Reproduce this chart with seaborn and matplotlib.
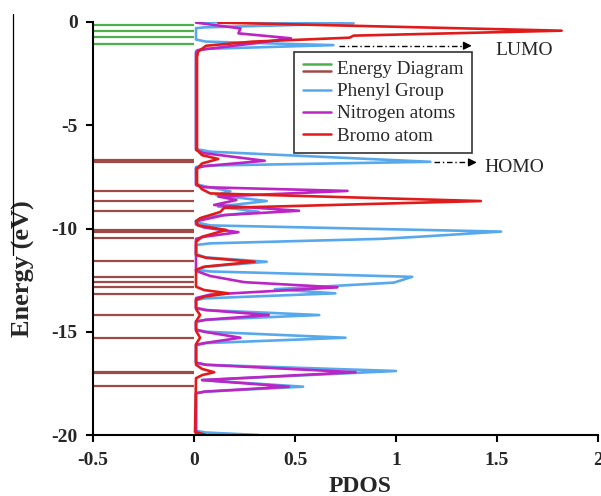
import numpy as np
import pandas as pd
import matplotlib
matplotlib.use("Agg")
import matplotlib.pyplot as plt
import seaborn as sns
from matplotlib.lines import Line2D
from matplotlib.legend_handler import HandlerBase

# ---------------- data ----------------
green_levels = [-0.15, -0.42, -0.74, -1.08]
brown_levels = [-6.68, -6.79, -8.18, -8.67, -9.14, -10.07, -10.16, -10.47,
                -11.58, -12.33, -12.61, -12.85, -13.17, -14.19, -15.29,
                -16.93, -17.01, -17.61]

phenyl_e = [0.0, -0.07, -0.26, -0.30, -0.85, -0.95, -1.12, -1.30, -1.40,
            -6.15, -6.28, -6.77, -6.95, -7.02, -7.85, -7.95, -8.20, -8.38,
            -8.67, -8.94, -9.19, -9.45, -9.62, -9.70, -9.85, -10.15, -10.39,
            -10.50, -10.72, -10.80, -11.25, -11.40, -11.61, -11.85, -12.00,
            -12.08, -12.34, -12.62, -12.94, -13.14, -13.38, -13.46, -13.85,
            -13.95, -14.19, -14.42, -14.51, -14.90, -15.00, -15.29, -15.55,
            -15.64, -16.50, -16.60, -16.90, -17.34, -17.66, -17.90, -17.98,
            -19.80, -19.88, -20.0]
phenyl_v = [0.01, 0.79, 0.05, 0.01, 0.01, 0.06, 0.69, 0.06, 0.01,
            0.01, 0.08, 1.17, 0.08, 0.01, 0.01, 0.05, 0.18, 0.11,
            0.36, 0.12, 0.32, 0.05, 0.01, 0.01, 0.08, 1.52, 1.13,
            0.93, 0.08, 0.01, 0.01, 0.06, 0.36, 0.06, 0.01,
            0.08, 1.08, 0.99, 0.40, 0.70, 0.06, 0.01, 0.01,
            0.06, 0.62, 0.06, 0.01, 0.01, 0.06, 0.75, 0.06,
            0.01, 0.01, 0.06, 1.00, 0.04, 0.54, 0.06, 0.01,
            0.01, 0.06, 0.32]

nitrogen_e = [-0.03, -0.31, -0.55, -0.79, -1.03, -1.36, -1.50, -6.20, -6.35,
              -6.72, -6.98, -7.09, -7.90, -8.00, -8.18, -8.45, -8.62, -8.86,
              -9.14, -9.35, -9.65, -9.80, -9.95, -10.18, -10.40, -10.50,
              -12.05, -12.30, -12.60, -12.85, -13.20, -13.37, -13.85, -13.95,
              -14.19, -14.42, -14.51, -14.90, -15.00, -15.29, -15.55, -15.64,
              -16.50, -16.60, -16.96, -17.34, -17.66, -17.90, -17.98, -20.0]
nitrogen_v = [0.01, 0.23, 0.22, 0.48, 0.30, 0.02, 0.01, 0.01, 0.05,
              0.35, 0.05, 0.01, 0.01, 0.05, 0.76, 0.12, 0.21, 0.10,
              0.52, 0.15, 0.01, 0.01, 0.05, 0.22, 0.05, 0.01,
              0.01, 0.08, 0.25, 0.71, 0.08, 0.01, 0.01, 0.06,
              0.37, 0.06, 0.01, 0.01, 0.05, 0.23, 0.05, 0.01,
              0.01, 0.06, 0.80, 0.04, 0.47, 0.05, 0.01, 0.01]

bromo_e = [-0.03, -0.42, -0.66, -0.76, -0.95, -1.15, -1.44, -1.70, -6.20,
           -6.45, -6.63, -6.85, -7.10, -7.85, -8.10, -8.30, -8.67, -9.00,
           -9.20, -9.50, -9.65, -9.85, -10.07, -10.40, -10.64, -11.28,
           -11.42, -11.61, -11.85, -12.00, -12.82, -12.98, -13.14, -13.30,
           -13.46, -13.90, -14.19, -14.50, -14.95, -15.29, -15.60, -16.60,
           -16.80, -16.96, -17.10, -17.25, -19.85, -20.0]
bromo_v = [0.12, 1.82, 0.79, 0.77, 0.29, 0.06, 0.02, 0.015, 0.015,
           0.04, 0.12, 0.04, 0.015, 0.015, 0.04, 0.08, 1.42, 0.15,
           0.13, 0.03, 0.01, 0.02, 0.16, 0.04, 0.01, 0.01,
           0.06, 0.30, 0.05, 0.01, 0.01, 0.05, 0.17, 0.05,
           0.01, 0.01, 0.03, 0.01, 0.01, 0.03, 0.01, 0.01,
           0.04, 0.10, 0.04, 0.01, 0.005, 0.06]

x_ticks = [-0.5, 0, 0.5, 1, 1.5, 2]
x_tick_labels = ["-0.5", "0", "0.5", "1", "1.5", "2"]
y_ticks = [0, -5, -10, -15, -20]
y_tick_labels = ["0", "-5", "-10", "-15", "-20"]

# ---------------- style ----------------
sns.set_style("ticks")
plt.rcParams['font.family'] = ['Liberation Serif', 'DejaVu Serif']
plt.rcParams['axes.unicode_minus'] = False

C_GREEN = "#4DB04A"
C_BROWN = "#9E4B48"
C_BLUE = "#58A8EC"
C_PURPLE = "#BC24C4"
C_RED = "#E01B1B"

W, H = 601, 496
fig = plt.figure(figsize=(W / 100, H / 100), dpi=100)
ax = fig.add_axes([93 / W, 1 - 435 / H, (598 - 93) / W, (435 - 22) / H])

# energy levels
ax.hlines(green_levels, -0.5, 0, colors=C_GREEN, lw=1.6)
ax.hlines(brown_levels, -0.5, 0, colors=C_BROWN, lw=1.6)

# PDOS curves
for e, v, c in [(phenyl_e, phenyl_v, C_BLUE),
                (nitrogen_e, nitrogen_v, C_PURPLE),
                (bromo_e, bromo_v, C_RED)]:
    df = pd.DataFrame({"energy": e, "pdos": v})
    sns.lineplot(data=df, x="pdos", y="energy", sort=False, estimator=None,
                 color=c, lw=1.9, ax=ax)

ax.set_xlim(-0.5, 2)
ax.set_ylim(-20, 0)
ax.set_xticks(x_ticks)
ax.set_xticklabels(x_tick_labels)
ax.set_yticks(y_ticks)
ax.set_yticklabels(y_tick_labels)
for lab in ax.get_xticklabels() + ax.get_yticklabels():
    lab.set_fontweight("bold")
    lab.set_fontsize(14)
ax.tick_params(axis="both", direction="out", length=5, width=1.5, color="black")
ax.tick_params(axis="x", pad=7)
ax.tick_params(axis="y", pad=6)
sns.despine(ax=ax)
for s in ["left", "bottom"]:
    ax.spines[s].set_color("black")
    ax.spines[s].set_linewidth(1.5)

ax.set_xlabel("PDOS", fontsize=17, fontweight="bold", va="center")
ax.set_ylabel("Energy (eV)", fontsize=19, fontweight="bold", va="center")
ax.xaxis.set_label_coords((360 - 93) / (598 - 93), -(486 - 435) / (435 - 22), transform=ax.transAxes)
ax.yaxis.set_label_coords(-(93 - 23) / (598 - 93), (435 - 269) / (435 - 22), transform=ax.transAxes)

# LUMO / HOMO arrows
for x0, x1, y, txt, tx in [(0.72, 1.375, -1.15, "LUMO", 1.49),
                           (1.19, 1.40, -6.80, "HOMO", 1.44)]:
    ax.plot([x0, x1 - 0.03], [y, y], color="black", lw=1,
            ls=(0, (4, 2, 1, 2)))
    ax.annotate("", xy=(x1, y), xytext=(x1 - 0.04, y),
                arrowprops=dict(arrowstyle="-|>", color="black", lw=1,
                                mutation_scale=12, shrinkA=0, shrinkB=0))
    ax.text(tx, y - 0.25, txt, fontsize=14, va="center", ha="left")

# legend
class HandlerTwoLines(HandlerBase):
    def create_artists(self, legend, orig_handle, xdescent, ydescent,
                       width, height, fontsize, trans):
        l1 = Line2D([-xdescent, width - xdescent], [height * 0.78] * 2,
                    color=C_GREEN, lw=1.8)
        l2 = Line2D([-xdescent, width - xdescent], [height * 0.22] * 2,
                    color=C_BROWN, lw=1.8)
        l1.set_transform(trans)
        l2.set_transform(trans)
        return [l1, l2]

energy_handle = Line2D([], [], color=C_GREEN)
handles = [energy_handle,
           Line2D([], [], color=C_BLUE, lw=1.8),
           Line2D([], [], color=C_PURPLE, lw=1.8),
           Line2D([], [], color=C_RED, lw=1.8)]
labels = ["Energy Diagram", "Phenyl Group", "Nitrogen atoms", "Bromo atom"]
leg = ax.legend(handles, labels, handler_map={energy_handle: HandlerTwoLines()},
                loc="upper left", bbox_to_anchor=(294 / W, 1 - 52 / H),
                bbox_transform=fig.transFigure, borderaxespad=0,
                fontsize=13.8, frameon=True, fancybox=False, framealpha=1,
                edgecolor="#333333", handlelength=1.5, handletextpad=0.3,
                labelspacing=0.25, borderpad=0.45)
leg.get_frame().set_linewidth(1.2)

# stray vertical line at the left edge of the original image
fig.add_artist(Line2D([12.5 / W, 12.5 / W], [1 - 14 / H, 1 - 255 / H],
                      transform=fig.transFigure, color="black", lw=0.9))

fig.savefig("out.png", dpi=100)
